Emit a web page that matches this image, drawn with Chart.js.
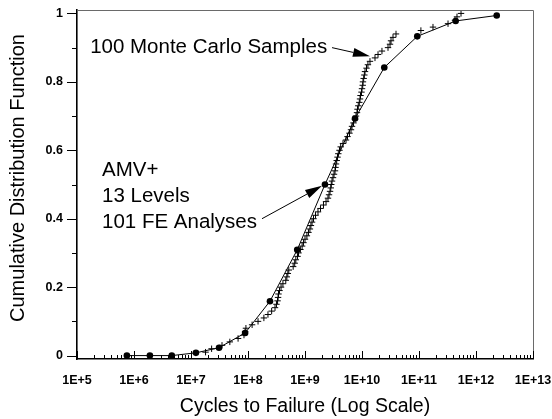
<!DOCTYPE html>
<html>
<head>
<meta charset="utf-8">
<script src="https://cdn.jsdelivr.net/npm/chart.js@4.4.1/dist/chart.umd.min.js"></script>
<style>
  html, body { margin: 0; padding: 0; background: #fff; }
  #wrap { width: 552px; height: 419px; }
</style>
</head>
<body>
<div id="wrap"><canvas id="cdfChart" width="552" height="419"></canvas></div>
<script>
// AMV+ results (13 levels)
const amvCycles = [7.5e5, 1.9e6, 4.6e6, 1.22e7, 3.1e7, 8.9e7, 2.43e8, 7.3e8, 2.24e9, 7.54e9, 2.46e10, 9.33e10, 4.4e11, 2.31e12];
const amvCdf = [0, 0, 0, 0.008, 0.023, 0.066, 0.159, 0.309, 0.5, 0.693, 0.842, 0.933, 0.978, 0.994];

// 100 Monte Carlo samples, sorted
const mcCycles = [
  1.8e7, 2.3e7, 3.5e7, 4.8e7, 6.7e7, 8.5e7, 8.9e7, 9.2e7, 1.18e8, 1.5e8,
  1.9e8, 2.24e8, 2.6e8, 2.98e8, 3.16e8, 3.3e8, 3.37e8, 3.43e8, 3.57e8, 3.8e8,
  4.1e8, 4.6e8, 4.8e8, 5.0e8, 5.2e8, 6.2e8, 6.6e8, 6.9e8, 7.4e8, 7.7e8,
  8.3e8, 8.9e8, 9.4e8, 1.0e9, 1.08e9, 1.15e9, 1.22e9, 1.27e9, 1.33e9, 1.41e9,
  1.53e9, 1.69e9, 1.87e9, 2.11e9, 2.34e9, 2.53e9, 2.64e9, 2.75e9, 2.83e9, 2.89e9,
  2.98e9, 3.1e9, 3.23e9, 3.36e9, 3.43e9, 3.5e9, 3.6e9, 3.72e9, 3.84e9, 4.03e9,
  4.23e9, 4.64e9, 5.24e9, 5.57e9, 6.03e9, 6.41e9, 6.68e9, 7.1e9, 7.54e9, 7.85e9,
  8.17e9, 8.34e9, 8.6e9, 8.97e9, 9.23e9, 9.42e9, 9.8e9, 1.0e10, 1.03e10, 1.04e10,
  1.07e10, 1.1e10, 1.13e10, 1.2e10, 1.27e10, 1.38e10, 1.69e10, 1.91e10, 2.24e10, 2.86e10,
  3.1e10, 3.23e10, 3.5e10, 3.95e10, 1.08e11, 1.76e11, 3.23e11, 4.28e11, 4.64e11, 5.46e11
];
const mcCdf = [
  0.01, 0.02, 0.03, 0.04, 0.05, 0.06, 0.07, 0.08, 0.09, 0.10,
  0.11, 0.12, 0.13, 0.14, 0.15, 0.16, 0.17, 0.18, 0.19, 0.20,
  0.21, 0.22, 0.23, 0.24, 0.25, 0.26, 0.27, 0.28, 0.29, 0.30,
  0.31, 0.32, 0.33, 0.34, 0.35, 0.36, 0.37, 0.38, 0.39, 0.40,
  0.41, 0.42, 0.43, 0.44, 0.45, 0.46, 0.47, 0.48, 0.49, 0.50,
  0.51, 0.52, 0.53, 0.54, 0.55, 0.56, 0.57, 0.58, 0.59, 0.60,
  0.61, 0.62, 0.63, 0.64, 0.65, 0.66, 0.67, 0.68, 0.69, 0.70,
  0.71, 0.72, 0.73, 0.74, 0.75, 0.76, 0.77, 0.78, 0.79, 0.80,
  0.81, 0.82, 0.83, 0.84, 0.85, 0.86, 0.87, 0.88, 0.89, 0.90,
  0.91, 0.92, 0.93, 0.94, 0.95, 0.96, 0.97, 0.98, 0.99, 1.00
];

const xTickValues = [1e5, 1e6, 1e7, 1e8, 1e9, 1e10, 1e11, 1e12, 1e13];
const xMinorSteps = [2, 3, 4, 5, 6, 7, 8, 9];
const yTickValues = [0, 0.2, 0.4, 0.6, 0.8, 1];
const yMinorValues = [0.1, 0.3, 0.5, 0.7, 0.9];

const xTitle = "Cycles to Failure (Log Scale)";
const yTitle = "Cumulative Distribution Function";
const mcNote = "100 Monte Carlo Samples";
const amvNote = ["AMV+", "13 Levels", "101 FE Analyses"];

// annotation anchors, in data units (cycles, cdf)
const mcNoteAt = [1.7e5, 0.90];
const mcArrow = [[2.98e9, 0.90], [1.38e10, 0.875]];
const amvNoteAt = [2.75e5, 0.542];
const amvLineGap = 0.077;
const amvArrow = [[1.76e8, 0.40], [1.99e9, 0.496]];

const FONT = "'Liberation Sans', Arial, Helvetica, sans-serif";

function drawArrow(ctx, x0, y0, x1, y1) {
  const ang = Math.atan2(y1 - y0, x1 - x0);
  const len = 17, half = 4.5;
  const bx = x1 - len * Math.cos(ang), by = y1 - len * Math.sin(ang);
  ctx.beginPath();
  ctx.moveTo(x0, y0);
  ctx.lineTo(bx, by);
  ctx.stroke();
  ctx.beginPath();
  ctx.moveTo(x1, y1);
  ctx.lineTo(bx + half * Math.sin(ang), by - half * Math.cos(ang));
  ctx.lineTo(bx - half * Math.sin(ang), by + half * Math.cos(ang));
  ctx.closePath();
  ctx.fill();
}

// tick marks, frame, axis titles and notes
const decor = {
  id: "decor",
  afterDraw(chart) {
    const { ctx, chartArea: a, scales: { x, y } } = chart;
    ctx.save();

    // top / right frame
    ctx.strokeStyle = "#6a6a6a";
    ctx.lineWidth = 1;
    ctx.beginPath();
    ctx.moveTo(a.left, a.top + 0.5);
    ctx.lineTo(a.right + 0.5, a.top + 0.5);
    ctx.lineTo(a.right + 0.5, a.bottom);
    ctx.stroke();

    // x ticks (inward)
    ctx.strokeStyle = "#000";
    ctx.beginPath();
    xTickValues.forEach((v, i) => {
      const px = Math.round(x.getPixelForValue(v)) + 0.5;
      ctx.moveTo(px, a.bottom); ctx.lineTo(px, a.bottom - 8);
      if (i < xTickValues.length - 1) {
        xMinorSteps.forEach(m => {
          const qx = Math.round(x.getPixelForValue(v * m)) + 0.5;
          ctx.moveTo(qx, a.bottom); ctx.lineTo(qx, a.bottom - 4);
        });
      }
    });
    // y ticks (outward)
    yTickValues.forEach(v => {
      const py = Math.round(y.getPixelForValue(v)) + 0.5;
      ctx.moveTo(a.left, py); ctx.lineTo(a.left - 10, py);
    });
    yMinorValues.forEach(v => {
      const py = Math.round(y.getPixelForValue(v)) + 0.5;
      ctx.moveTo(a.left, py); ctx.lineTo(a.left - 5, py);
    });
    ctx.stroke();

    // axis titles
    ctx.fillStyle = "#000";
    ctx.font = "19.5px " + FONT;
    ctx.textAlign = "center";
    ctx.textBaseline = "middle";
    ctx.fillText(xTitle, (a.left + a.right) / 2, 407);
    ctx.save();
    ctx.translate(18, 178);
    ctx.rotate(-Math.PI / 2);
    ctx.font = "20px " + FONT;
    ctx.fillText(yTitle, 0, 0);
    ctx.restore();

    // notes
    ctx.font = "20.5px " + FONT;
    ctx.textAlign = "left";
    ctx.fillText(mcNote, x.getPixelForValue(mcNoteAt[0]), y.getPixelForValue(mcNoteAt[1]));
    amvNote.forEach((t, i) => {
      ctx.fillText(t, x.getPixelForValue(amvNoteAt[0]), y.getPixelForValue(amvNoteAt[1] - i * amvLineGap));
    });

    ctx.lineWidth = 1;
    [mcArrow, amvArrow].forEach(([p0, p1]) => {
      drawArrow(ctx,
        x.getPixelForValue(p0[0]), y.getPixelForValue(p0[1]),
        x.getPixelForValue(p1[0]), y.getPixelForValue(p1[1]));
    });

    ctx.restore();
  }
};

const ctx = document.getElementById("cdfChart").getContext("2d");
new Chart(ctx, {
  type: "scatter",
  data: {
    datasets: [
      {
        label: "AMV+",
        data: amvCycles.map((c, i) => ({ x: c, y: amvCdf[i] })),
        showLine: true,
        borderColor: "#000",
        borderWidth: 1,
        backgroundColor: "#000",
        pointStyle: "circle",
        pointRadius: 3.3,
        pointBorderWidth: 0,
        tension: 0,
        order: 2
      },
      {
        label: "Monte Carlo",
        data: mcCycles.map((c, i) => ({ x: c, y: mcCdf[i] })),
        showLine: false,
        borderColor: "#000",
        backgroundColor: "#000",
        pointStyle: "cross",
        pointRadius: 3.2,
        pointBorderWidth: 1,
        order: 1
      }
    ]
  },
  plugins: [decor],
  options: {
    responsive: false,
    animation: false,
    devicePixelRatio: 1,
    layout: { padding: { top: 10, right: 19, left: 0, bottom: 0 } },
    plugins: { legend: { display: false }, tooltip: { enabled: false } },
    scales: {
      x: {
        type: "logarithmic",
        min: 1e5,
        max: 1e13,
        grid: { display: false, drawTicks: false },
        border: { display: true, color: "#000", width: 1.6 },
        afterBuildTicks: s => { s.ticks = xTickValues.map(v => ({ value: v })); },
        afterFit: s => { s.height = 60; s.paddingLeft = 0; s.paddingRight = 0; },
        ticks: {
          autoSkip: false,
          maxRotation: 0,
          padding: 14,
          color: "#000",
          font: { family: FONT, size: 12.5, weight: "bold" },
          callback: v => "1E+" + Math.round(Math.log10(v))
        }
      },
      y: {
        min: -0.01,
        max: 1.01,
        grid: { display: false, drawTicks: false },
        border: { display: true, color: "#000", width: 1.6 },
        afterBuildTicks: s => { s.ticks = yTickValues.map(v => ({ value: v })); },
        afterFit: s => { s.width = 77; s.paddingTop = 0; s.paddingBottom = 0; },
        ticks: {
          padding: 14,
          color: "#000",
          font: { family: FONT, size: 12.5, weight: "bold" },
          callback: v => String(v)
        }
      }
    }
  }
});
</script>
</body>
</html>
